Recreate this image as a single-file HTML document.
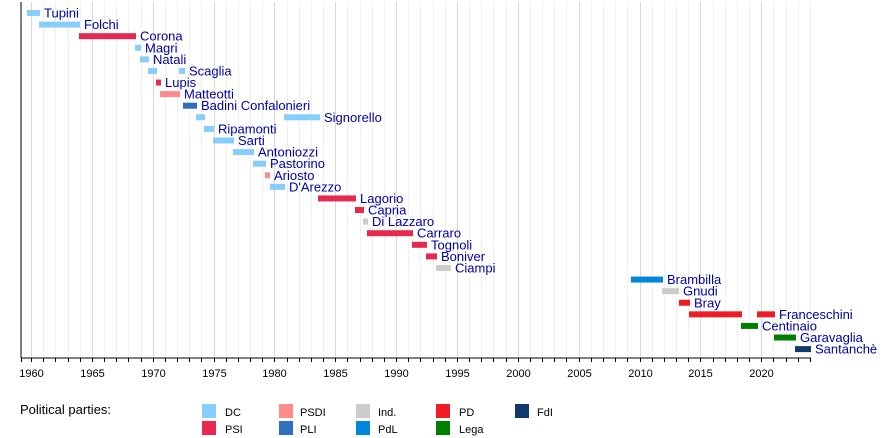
<!DOCTYPE html>
<html><head><meta charset="utf-8"><style>body{margin:0;background:#fff}svg{display:block}text{font-family:"Liberation Sans",sans-serif}</style></head>
<body>
<svg id="s" width="890" height="438" xmlns="http://www.w3.org/2000/svg">
<g id="grid"></g>
<line x1="21" y1="2" x2="21" y2="358" stroke="#000" stroke-width="1"/>
<line x1="21" y1="358" x2="811" y2="358" stroke="#000" stroke-width="1"/>
<g id="ticks"></g>
<g id="bars"></g>
<g font-size="11" fill="#000" id="yl"></g>
<text x="20" y="414" font-size="13">Political parties:</text>
<g font-size="11">
<rect x="202" y="404" width="14" height="14" fill="#87cefa"/><text x="225" y="416">DC</text>
<rect x="202" y="421" width="14" height="14" fill="#e52950"/><text x="225" y="433">PSI</text>
<rect x="279" y="404" width="14" height="14" fill="#ff8a8a"/><text x="300" y="416">PSDI</text>
<rect x="279" y="421" width="14" height="14" fill="#2e6fc0"/><text x="300" y="433">PLI</text>
<rect x="356" y="404" width="14" height="14" fill="#cccccc"/><text x="378" y="416">Ind.</text>
<rect x="356" y="421" width="14" height="14" fill="#0087dc"/><text x="378" y="433">PdL</text>
<rect x="436" y="404" width="14" height="14" fill="#ef1c27"/><text x="459" y="416">PD</text>
<rect x="436" y="421" width="14" height="14" fill="#008000"/><text x="459" y="433">Lega</text>
<rect x="515" y="404" width="14" height="14" fill="#0f3a6b"/><text x="537" y="416">FdI</text>
</g>
</svg>
<script>
var ns="http://www.w3.org/2000/svg";
function X(y){return 31+(y-1960)*12.17;}
function el(t,a,p,txt){var e=document.createElementNS(ns,t);for(var k in a)e.setAttribute(k,a[k]);if(txt)e.textContent=txt;document.getElementById(p).appendChild(e);}
for(var y=1960;y<=2024;y++){var x=Math.round(X(y))+0.5;el('line',{x1:x,y1:2,x2:x,y2:358,stroke:y%5?'#efefef':'#d8d8d8'},'grid');el('line',{x1:x,y1:358,x2:x,y2:362,stroke:'#000'},'ticks');if(y%5==0&&y<=2020)el('text',{x:x,y:377,'text-anchor':'middle','font-size':'11'},'yl',''+y);}
el('line',{x1:21.5,y1:358,x2:21.5,y2:362,stroke:'#000'},'ticks');
var C={DC:'#87cefa',PSI:'#e52950',PSDI:'#ff8a8a',PLI:'#2e6fc0',I:'#cccccc',PdL:'#0087dc',PD:'#ef1c27',L:'#008000',F:'#0f3a6b'};
var R=[
['Tupini',[[27,40,'DC']]],
['Folchi',[[39,80,'DC']]],
['Corona',[[79,136,'PSI']]],
['Magri',[[135,141,'DC']]],
['Natali',[[140,149,'DC']]],
['Scaglia',[[148,157,'DC'],[179,185,'DC']]],
['Lupis',[[156,161,'PSI']]],
['Matteotti',[[160,180,'PSDI']]],
['Badini Confalonieri',[[183,197,'PLI']]],
['Signorello',[[196,205,'DC'],[284,320,'DC']]],
['Ripamonti',[[204,214,'DC']]],
['Sarti',[[213,234,'DC']]],
['Antoniozzi',[[233,254,'DC']]],
['Pastorino',[[253,266,'DC']]],
['Ariosto',[[265,270,'PSDI']]],
["D'Arezzo",[[270,285,'DC']]],
['Lagorio',[[318,356,'PSI']]],
['Capria',[[355,364,'PSI']]],
['Di Lazzaro',[[363,368,'I']]],
['Carraro',[[367,413,'PSI']]],
['Tognoli',[[412,427,'PSI']]],
['Boniver',[[426,437,'PSI']]],
['Ciampi',[[436,451,'I']]],
['Brambilla',[[631,663,'PdL']]],
['Gnudi',[[662,679,'I']]],
['Bray',[[679,690,'PD']]],
['Franceschini',[[689,742,'PD'],[757,775,'PD']]],
['Centinaio',[[741,758,'L']]],
['Garavaglia',[[774,796,'L']]],
['Santanchè',[[795,811,'F']]]];
R.forEach(function(r,i){var cy=13+i*11.59;var end=0;r[1].forEach(function(b){el('rect',{x:b[0],y:cy-3,width:b[1]-b[0],height:6,fill:C[b[2]]},'bars');end=b[1];});
el('text',{x:end+4,y:cy+4.5,'font-size':'13',fill:'#0000a8'},'bars',r[0]);});
</script>
</body></html>
